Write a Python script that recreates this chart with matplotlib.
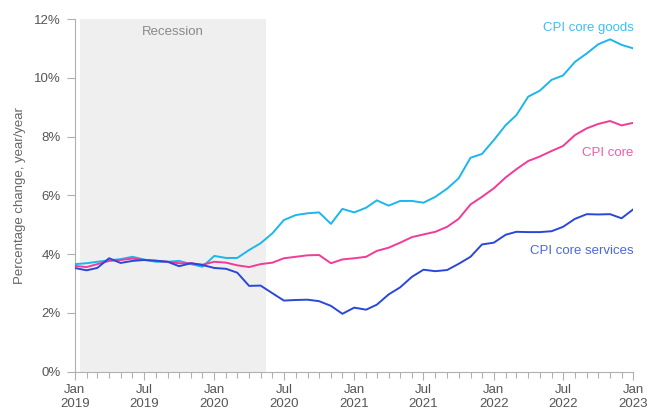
import matplotlib
matplotlib.use("Agg")
import matplotlib.pyplot as plt
import numpy as np
import pandas as pd
import matplotlib.dates as mdates

plt.rcParams['font.family'] = ['Liberation Sans', 'DejaVu Sans']

months = pd.date_range("2019-01-01", "2023-01-01", freq="MS")

core_goods = [3.66, 3.69, 3.74, 3.79, 3.83, 3.91, 3.82, 3.74, 3.74, 3.77, 3.66, 3.57,
              3.94, 3.87, 3.87, 4.14, 4.37, 4.71, 5.16, 5.33, 5.39, 5.42, 5.03, 5.54,
              5.42, 5.58, 5.83, 5.65, 5.81, 5.81, 5.75, 5.95, 6.23, 6.58, 7.28, 7.41,
              7.88, 8.39, 8.73, 9.36, 9.56, 9.93, 10.08, 10.54, 10.83, 11.14, 11.31, 11.12,
              11.00]
core = [3.60, 3.56, 3.66, 3.77, 3.80, 3.85, 3.80, 3.77, 3.74, 3.69, 3.69, 3.64,
        3.74, 3.71, 3.62, 3.56, 3.66, 3.71, 3.86, 3.91, 3.96, 3.97, 3.69, 3.82,
        3.86, 3.91, 4.11, 4.22, 4.39, 4.58, 4.67, 4.76, 4.93, 5.20, 5.69, 5.95,
        6.24, 6.61, 6.89, 7.17, 7.32, 7.51, 7.68, 8.05, 8.28, 8.43, 8.53, 8.38,
        8.47]
core_services = [3.53, 3.45, 3.53, 3.86, 3.70, 3.77, 3.80, 3.78, 3.74, 3.59, 3.69, 3.63,
                 3.53, 3.50, 3.37, 2.92, 2.93, 2.67, 2.42, 2.44, 2.45, 2.40, 2.24, 1.97,
                 2.18, 2.11, 2.28, 2.63, 2.87, 3.23, 3.47, 3.42, 3.46, 3.67, 3.91, 4.33,
                 4.39, 4.66, 4.76, 4.75, 4.75, 4.78, 4.93, 5.20, 5.36, 5.35, 5.36, 5.22,
                 5.53]

series_names = ["CPI core goods", "CPI core", "CPI core services"]
line_colors = ["#1CB6EE", "#F23A98", "#2A47D8"]
label_colors = ["#3DC0F0", "#F25CA8", "#4A66E0"]

fig = plt.figure(figsize=(6.48, 4.09), dpi=100)
ax = fig.add_axes([0.1153, 0.0912, 0.8622, 0.8623])

# recession shading (mid-Jan 2019 to mid-May 2020)
rec_start = pd.Timestamp("2019-01-15")
rec_end = pd.Timestamp("2020-05-16")
ax.axvspan(rec_start, rec_end, ymin=0, ymax=1, color="#EFEFEF", zorder=0, lw=0)
ax.text(rec_start + (rec_end - rec_start) / 2, 11.55, "Recession", ha="center", va="center",
        fontsize=9.5, color="#8A8A8A")

for vals, c in zip([core_goods, core, core_services], line_colors):
    ax.plot(months, vals, color=c, lw=1.4, zorder=3)

label_y = [11.7, 7.45, 4.1]
for name, c, yv in zip(series_names, label_colors, label_y):
    ax.text(months[-1], yv, name, ha="right", va="center", fontsize=9.5, color=c)

ax.set_xlim(months[0], months[-1])
ax.set_ylim(0, 12)
ax.set_yticks(np.arange(0, 13, 2))
ax.set_yticklabels([f"{v}%" for v in range(0, 13, 2)])

major = [d for d in months if d.month in (1, 7)]
ax.set_xticks(major)
ax.set_xticklabels([f"{d.strftime('%b')}\n{d.year}" for d in major])
ax.set_xticks(months, minor=True)

for s in ["top", "right"]:
    ax.spines[s].set_visible(False)
for s in ["left", "bottom"]:
    ax.spines[s].set_color("#B0B0B0")
    ax.spines[s].set_linewidth(0.8)

ax.tick_params(axis="both", which="both", colors="#B0B0B0", labelcolor="#555555", labelsize=9.5)
ax.tick_params(axis="y", length=6, width=0.8, pad=4)
ax.tick_params(axis="x", which="major", length=6, width=0.8, pad=3)
ax.tick_params(axis="x", which="minor", length=4, width=0.8)

ax.set_ylabel("Percentage change, year/year", fontsize=9.5, color="#666666", labelpad=6)

fig.savefig("out.png", dpi=100)
